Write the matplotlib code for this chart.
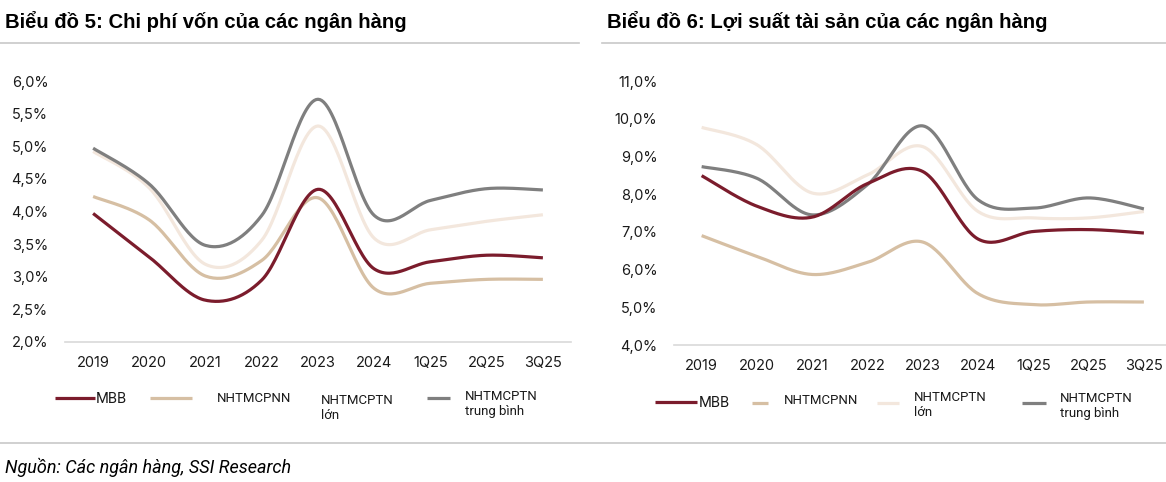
import matplotlib.pyplot as plt
import numpy as np
from matplotlib.lines import Line2D
from matplotlib.ticker import FuncFormatter

plt.rcParams['font.family'] = ['Roboto', 'DejaVu Sans']

periods = ['2019', '2020', '2021', '2022', '2023', '2024', '1Q25', '2Q25', '3Q25']

# Biểu đồ 5: chi phí vốn (%)
cof_mbb = [3.97, 3.30, 2.64, 2.95, 4.34, 3.12, 3.23, 3.33, 3.29]
cof_nn = [4.23, 3.87, 3.01, 3.25, 4.21, 2.82, 2.90, 2.96, 2.96]
cof_tn_lon = [4.92, 4.36, 3.19, 3.56, 5.31, 3.59, 3.72, 3.85, 3.95]
cof_tn_tb = [4.97, 4.42, 3.48, 3.94, 5.72, 3.94, 4.17, 4.35, 4.33]

# Biểu đồ 6: lợi suất tài sản (%)
yoa_mbb = [8.49, 7.68, 7.39, 8.28, 8.60, 6.81, 7.01, 7.06, 6.97]
yoa_nn = [6.90, 6.35, 5.87, 6.19, 6.73, 5.36, 5.07, 5.14, 5.14]
yoa_tn_lon = [9.77, 9.31, 8.03, 8.51, 9.26, 7.54, 7.37, 7.37, 7.54]
yoa_tn_tb = [8.73, 8.42, 7.45, 8.25, 9.81, 7.85, 7.63, 7.90, 7.61]

names = ['MBB', 'NHTMCPNN', 'NHTMCPTN\nlớn', 'NHTMCPTN\ntrung bình']
colors = ['#7b1c2c', '#d6bfa3', '#f3e7dd', '#7f7f7f']

W, H = 1166, 482


def smooth(y, n=30):
    # Excel-style smoothed line (Catmull-Rom through the points)
    y = np.asarray(y, float)
    x = np.arange(len(y), dtype=float)
    px = np.concatenate([[x[0]], x, [x[-1]]])
    py = np.concatenate([[y[0]], y, [y[-1]]])
    xs, ys = [], []
    t = np.linspace(0, 1, n)
    for i in range(1, len(px) - 2):
        p0, p1, p2, p3 = [np.array([px[j], py[j]]) for j in range(i - 1, i + 3)]
        c1 = p1 + (p2 - p0) / 6
        c2 = p2 - (p3 - p1) / 6
        b = ((1 - t) ** 3)[:, None] * p1 + (3 * (1 - t) ** 2 * t)[:, None] * c1 \
            + (3 * (1 - t) * t ** 2)[:, None] * c2 + (t ** 3)[:, None] * p2
        xs.append(b[:, 0])
        ys.append(b[:, 1])
    return np.concatenate(xs), np.concatenate(ys)


def box(l, r, b, t):
    return [l / W, 1 - b / H, (r - l) / W, (b - t) / H]


fig = plt.figure(figsize=(W / 100, H / 100), dpi=100)
pct = FuncFormatter(lambda v, p: ('%.1f%%' % v).replace('.', ','))


def panel(rect, series, ylim, step, xmax):
    ax = fig.add_axes(rect)
    order = [2, 1, 3, 0]
    for i in order:
        xs, ys = smooth(series[i])
        ax.plot(xs, ys, color=colors[i], lw=2.3, solid_capstyle='butt', zorder=2 + (i == 0))
    ax.set_xlim(-0.5, xmax)
    ax.set_ylim(*ylim)
    ax.set_yticks(np.arange(ylim[0], ylim[1] + 0.01, step))
    ax.yaxis.set_major_formatter(pct)
    ax.set_xticks(range(len(periods)))
    ax.set_xticklabels(periods)
    for sp in ['top', 'right', 'left']:
        ax.spines[sp].set_visible(False)
    ax.spines['bottom'].set_color('#d9d9d9')
    ax.spines['bottom'].set_linewidth(1.2)
    ax.tick_params(length=0, labelsize=10.5, colors='#1a1a1a')
    ax.tick_params(axis='x', pad=10)
    ax.tick_params(axis='y', pad=12)
    for lab in ax.get_xticklabels() + ax.get_yticklabels():
        lab.set_family(['Inter', 'DejaVu Sans'])
    return ax


ax1 = panel(box(65, 571, 342, 81), [cof_mbb, cof_nn, cof_tn_lon, cof_tn_tb], (2.0, 6.0), 0.5, 8.5)
ax2 = panel(box(674, 1166, 345, 81), [yoa_mbb, yoa_nn, yoa_tn_lon, yoa_tn_tb], (4.0, 11.0), 1.0, 8.4)

# titles and separators
fig.text(5 / W, 1 - 21 / H, 'Biểu đồ 5: Chi phí vốn của các ngân hàng', fontsize=14.6,
         fontweight='bold', family=['Liberation Sans', 'DejaVu Sans'], va='center', ha='left')
fig.text(607 / W, 1 - 21 / H, 'Biểu đồ 6: Lợi suất tài sản của các ngân hàng', fontsize=14.6,
         fontweight='bold', family=['Liberation Sans', 'DejaVu Sans'], va='center', ha='left')
for x0, x1, y in [(0, 579, 43), (602, W, 43), (0, W, 443)]:
    fig.add_artist(Line2D([x0 / W, x1 / W], [1 - y / H, 1 - y / H], color='#c8c8c8', lw=1.2))
fig.text(5 / W, 1 - 467 / H, 'Nguồn: Các ngân hàng, SSI Research', fontsize=13,
         style='italic', va='center', ha='left')


def legend_item(x0, x1, y, color, tx, ty, label, size=9.5):
    if x1 is not None:
        fig.add_artist(Line2D([x0 / W, x1 / W], [1 - y / H, 1 - y / H], color=color, lw=2.3,
                              solid_capstyle='butt'))
    fig.text(tx / W, 1 - ty / H, label, fontsize=size, va='center', ha='left',
             linespacing=1.25, color='#1a1a1a')


# left legend
legend_item(55, 95, 398, colors[0], 96, 399, names[0], 10.5)
legend_item(150, 192, 398, colors[1], 217, 398, names[1])
legend_item(0, None, 0, colors[2], 321, 408, names[2])
legend_item(427, 450, 398, colors[3], 465, 404, names[3])
# right legend
legend_item(655, 697, 402, colors[0], 699, 403, names[0], 10.5)
legend_item(752, 768, 403, colors[1], 784, 401, names[1])
legend_item(877, 899, 403, colors[2], 914, 405, names[2])
legend_item(1022, 1046, 403, colors[3], 1060, 406, names[3])

fig.savefig('out.png', dpi=100)
